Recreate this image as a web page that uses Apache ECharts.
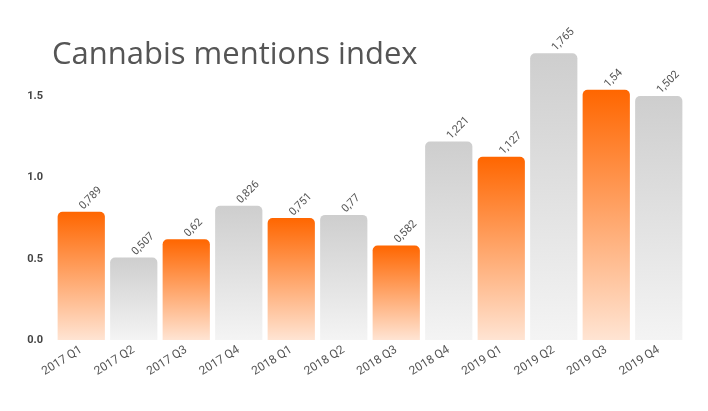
<!DOCTYPE html>
<html><head><meta charset="utf-8">
<script src="https://cdn.jsdelivr.net/npm/echarts@6/dist/echarts.min.js"></script>
<style>html,body{margin:0;padding:0;background:#fff}#c{width:708px;height:411px}</style>
</head><body><div id="c"></div>
<script>
const categories = ['2017 Q1','2017 Q2','2017 Q3','2017 Q4','2018 Q1','2018 Q2','2018 Q3','2018 Q4','2019 Q1','2019 Q2','2019 Q3','2019 Q4'];
const values = [0.789,0.507,0.62,0.826,0.751,0.77,0.582,1.221,1.127,1.765,1.54,1.502];
const yTicks = [0, 0.5, 1.0, 1.5];

const orange = new echarts.graphic.LinearGradient(0,0,0,1,[{offset:0,color:'#ff6600'},{offset:1,color:'#ffe4d3'}]);
const gray = new echarts.graphic.LinearGradient(0,0,0,1,[{offset:0,color:'#cecece'},{offset:1,color:'#f4f4f4'}]);

const chart = echarts.init(document.getElementById('c'));
chart.setOption({
  animation:false,
  backgroundColor:'#fff',
  title:{text:'Cannabis mentions index',left:47,top:35,textStyle:{fontFamily:'Open Sans',fontSize:31,fontWeight:'normal',color:'#555'}},
  grid:{left:55,right:23,top:15,bottom:71},
  xAxis:{type:'category',data:categories,axisLine:{show:false},axisTick:{show:false},
    axisLabel:{rotate:32,color:'#555',fontSize:12,fontFamily:'Roboto',margin:9,interval:0}},
  yAxis:{type:'value',min:0,max:2,interval:0.5,splitLine:{show:false},axisLine:{show:false},axisTick:{show:false},
    axisLabel:{color:'#444',fontSize:11,fontWeight:'bold',fontFamily:'Roboto',margin:12,
      formatter:v=>yTicks.includes(v)?v.toFixed(1):''}},
  series:[{type:'bar',barCategoryGap:'10%',
    data:values.map((v,i)=>({value:v,itemStyle:{color:i%2===0?orange:gray}})),
    itemStyle:{borderRadius:[5,5,0,0]},
    label:{show:true,position:'top',rotate:45,align:'left',verticalAlign:'middle',distance:4,
      color:'#555',fontSize:11,fontFamily:'Roboto',
      formatter:p=>String(p.value).replace('.',',')}}]
});
</script></body></html>
